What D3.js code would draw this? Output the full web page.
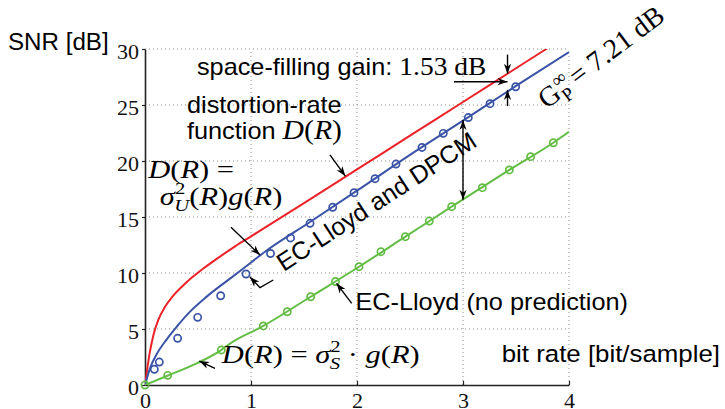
<!DOCTYPE html>
<html>
<head>
<meta charset="utf-8">
<script src="https://cdn.jsdelivr.net/npm/d3@7"></script>
<style>
  body { margin: 0; background: #fff; }
  svg { display: block; }
  .sans { font-family: "Liberation Sans", Arial, sans-serif; }
  .serif { font-family: "Liberation Serif", "Times New Roman", serif; }
</style>
</head>
<body>
<div id="chart"></div>
<script>
// values: [rate in bit/sample, SNR in dB]
const rdCurve = [[0,0],[0.022,1.5],[0.047,3.0],[0.079,4.45],[0.126,5.82],[0.189,6.98],[0.267,7.98],
  [0.35,8.8],[0.45,9.66],[0.55,10.4],[0.7,11.42],[0.85,12.38],[1,13.27],[1.5,16.24],[2,19.25],
  [2.5,22.26],[3,25.27],[3.5,28.28],[4,31.29]];
const dpcmCurve = [[0,0],[0.047,1.49],[0.11,2.75],[0.205,4.08],[0.299,5.2],[0.425,6.55],[0.582,7.89],
  [0.802,9.5],[0.991,10.87],[1.132,11.9],[1.557,14.55],[2,17.35],[2.5,20.55],[3,23.6],[3.5,26.7],[4,29.72]];
const ecsqCurve = [[0,0],[0.205,0.8],[0.487,1.93],[0.708,3.05],[0.802,3.7],[1.116,5.27],[1.563,7.88],
  [2.019,10.56],[2.456,13.24],[2.893,15.92],[3.437,19.2],[3.852,21.63],[4,22.6]];
const dpcmPoints = [[0.088,1.40],[0.135,2.05],[0.308,4.17],[0.497,6.04],[0.714,7.97],[0.953,9.91],
  [1.184,11.74],[1.373,13.13],[1.557,14.44],[1.771,15.87],[1.972,17.17],[2.170,18.42],[2.368,19.73],
  [2.613,21.21],[2.814,22.47],[3.050,23.88],[3.255,25.12],[3.497,26.63]];
const ecsqPoints = [[0,0],[0.214,0.86],[0.72,3.13],[1.116,5.27],[1.342,6.54],[1.563,7.88],[1.797,9.24],
  [2.019,10.56],[2.226,11.90],[2.456,13.24],[2.682,14.64],[2.893,15.92],[3.182,17.62],[3.437,19.2],
  [3.638,20.39],[3.852,21.63]];
const xTicks = [0,1,2,3,4];
const yTicks = [0,5,10,15,20,25,30];

// annotation arrows, in data coordinates (tip is the last point)
const arrows = [
  {pts: [[2.915,27.08],[3.42,27.08]]},
  {pts: [[3.42,29.5],[3.42,27.8]]},
  {pts: [[3.42,24.9],[3.42,26.35]]},
  {pts: [[3,16.55],[3,23.65]], both: true},
  {pts: [[1.745,20.54],[1.89,18.65]]},
  {pts: [[0.811,14.08],[1.085,11.61]]},
  {pts: [[1.21,9.375],[1.085,8.69],[0.99,9.64]]},
  {pts: [[1.95,7.29],[1.807,9.08]]},
  {pts: [[0.66,1.49],[0.512,2.14]]}
];

const colRed = "#ec2228", colBlue = "#3a53a6", colGreen = "#63bd45";

const W = 725, H = 409;
const svg = d3.select("#chart").append("svg").attr("width", W).attr("height", H);

const x = d3.scaleLinear().domain([0,4]).range([145,569]);
const y = d3.scaleLinear().domain([0,30]).range([385,49]);

svg.append("defs").append("clipPath").attr("id","plotclip")
  .append("rect").attr("x", x(0)).attr("y", y(30)).attr("width", x(4)-x(0)).attr("height", y(0)-y(30));

const mk = svg.select("defs").append("marker")
  .attr("id","head").attr("viewBox","-11 -5 12 10")
  .attr("markerWidth",12).attr("markerHeight",10)
  .attr("markerUnits","userSpaceOnUse")
  .attr("refX",0).attr("refY",0).attr("orient","auto-start-reverse");
mk.append("path").attr("d","M0,0L-10,-3.6L-7,0L-10,3.6Z").attr("fill","#000");

// dotted grid
svg.append("g").selectAll("line").data(xTicks.filter(d => d > 0)).enter().append("line")
  .attr("x1", d => x(d)).attr("x2", d => x(d)).attr("y1", y(0)).attr("y2", y(30))
  .attr("stroke","#8c8c8c").attr("stroke-width",1).attr("stroke-dasharray","1,3");
svg.append("g").selectAll("line").data(yTicks.filter(d => d > 0)).enter().append("line")
  .attr("x1", x(0)).attr("x2", x(4)).attr("y1", d => y(d)).attr("y2", d => y(d))
  .attr("stroke","#8c8c8c").attr("stroke-width",1).attr("stroke-dasharray","1,3");

// axes
const gx = svg.append("g").attr("transform", `translate(0,${y(0)})`)
  .call(d3.axisBottom(x).tickValues(xTicks).tickFormat(d3.format("d")).tickSize(-4).tickSizeOuter(0));
gx.selectAll("text").attr("y", 23).attr("dy", null)
  .attr("class","serif").style("font-size","22px").attr("fill","#111");
const gy = svg.append("g").attr("transform", `translate(${x(0)},0)`)
  .call(d3.axisLeft(y).tickValues(yTicks).tickFormat(d3.format("d")).tickSize(3).tickPadding(3).tickSizeOuter(0));
gy.selectAll("text").attr("dy","0.42em")
  .attr("class","serif").style("font-size","22px").attr("fill","#111");
svg.selectAll(".domain").attr("stroke","#222").attr("stroke-width",1.6);
svg.selectAll(".tick line").attr("stroke","#222").attr("stroke-width",1.2);

// curves
const line = d3.line().x(d => x(d[0])).y(d => y(d[1])).curve(d3.curveMonotoneX);
const curves = [
  {data: rdCurve, color: colRed},
  {data: dpcmCurve, color: colBlue},
  {data: ecsqCurve, color: colGreen}
];
svg.append("g").attr("clip-path","url(#plotclip)")
  .selectAll("path").data(curves).enter().append("path")
  .attr("d", d => line(d.data)).attr("fill","none")
  .attr("stroke", d => d.color).attr("stroke-width", 2);

// measured points
const pointSets = [{data: dpcmPoints, color: colBlue}, {data: ecsqPoints, color: colGreen}];
pointSets.forEach(ps => {
  svg.append("g").selectAll("circle").data(ps.data).enter().append("circle")
    .attr("cx", d => x(d[0])).attr("cy", d => y(d[1])).attr("r", 3.6)
    .attr("fill","none").attr("stroke", ps.color).attr("stroke-width", 1.7);
});

// arrows
const arrowLine = d3.line().x(d => x(d[0])).y(d => y(d[1]));
svg.append("g").selectAll("path").data(arrows).enter().append("path")
  .attr("d", d => arrowLine(d.pts)).attr("fill","none")
  .attr("stroke","#000").attr("stroke-width",1.4)
  .attr("marker-end","url(#head)")
  .attr("marker-start", d => d.both ? "url(#head)" : null);

// text helpers
function mathText(sel, parts, size){
  parts.forEach(p => {
    const t = sel.append("tspan").text(p.t);
    if (p.i) t.style("font-style","italic");
    if (p.small) t.style("font-size", Math.round(size*0.68) + "px");
    else if (p.size) t.style("font-size", p.size + "px");
    if (p.dx != null) t.attr("dx", p.dx);
    if (p.dy != null) t.attr("dy", p.dy);
    if (p.serif) t.attr("class","serif");
  });
}
function label(px, py, cls, size, rot, sx){
  const t = svg.append("text").attr("class", cls).style("font-size", size + "px").attr("fill","#000");
  let tr = `translate(${px},${py})`;
  if (rot) tr += ` rotate(${rot})`;
  if (sx) tr += ` scale(${sx},1)`;
  return t.attr("transform", tr);
}

label(8, 50, "sans", 23, 0, 1.05).text("SNR [dB]");
label(720, 362, "sans", 23.5, 0, 1.1).attr("text-anchor","end").text("bit rate [bit/sample]");

const sfg = label(x(0.49), y(27.68), "sans", 23, 0, 1.1);
mathText(sfg, [{t:"space-filling gain: "},{t:"1.53 dB", serif:true, size:25}], 25);

label(x(0.396), y(24.3), "sans", 23, 0, 1.1).text("distortion-rate");
const fn = label(x(0.396), y(22.0), "sans", 23, 0, 1.1);
mathText(fn, [{t:"function "},{t:"D", i:true, serif:true, size:27},{t:"(", serif:true, size:27},
  {t:"R", i:true, serif:true, size:27},{t:")", serif:true, size:27}], 27);

const du = label(x(0.03), y(18.48), "serif", 25, 0, 1.22);
mathText(du, [{t:"D", i:true},{t:"("},{t:"R", i:true},{t:") ="}], 25);
const du2 = label(x(0.14), y(16.07), "serif", 25, 0, 1.22);
mathText(du2, [{t:"σ", i:true},{t:"2", small:true, dy:-11},{t:"U", i:true, small:true, dx:-9, dy:17},
  {t:"(", dy:-6},{t:"R", i:true},{t:")"},{t:"g", i:true},{t:"("},{t:"R", i:true},{t:")"}], 25);

const ds = label(x(0.725), y(1.97), "serif", 25, 0, 1.22);
mathText(ds, [{t:"D", i:true},{t:"("},{t:"R", i:true},{t:") = "},{t:"σ", i:true},
  {t:"2", small:true, dy:-11},{t:"S", i:true, small:true, dx:-9, dy:17},{t:" · ", dy:-6},
  {t:"g", i:true},{t:"("},{t:"R", i:true},{t:")"}], 25);

label(x(1.985), y(6.7), "sans", 23, 0, 1.1).text("EC-Lloyd (no prediction)");
label(x(1.31), y(10.1), "sans", 25, -33).text("EC-Lloyd and DPCM");

const gp = label(x(3.79), y(24.6), "serif", 28, -37);
mathText(gp, [{t:"G"},{t:"∞", small:true, dy:-11, dx:1},{t:"P", small:true, dx:-14, dy:18},{t:" = 7.21 dB", dy:-7}], 28);
</script>
</body>
</html>
